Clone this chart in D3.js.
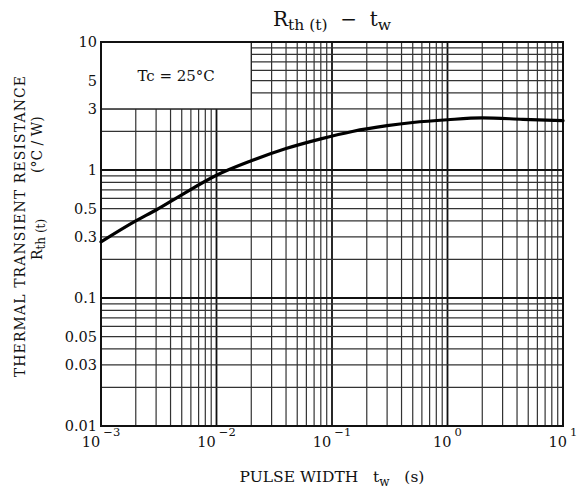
<!DOCTYPE html>
<html>
<head>
<meta charset="utf-8">
<script src="https://cdn.jsdelivr.net/npm/d3@7"></script>
<style>
  html, body { margin: 0; padding: 0; background: #fff; }
  svg { display: block; }
  text { font-family: "DejaVu Serif", serif; fill: #111; white-space: pre; }
</style>
</head>
<body>
<svg id="chart"></svg>
<script>
// ── DATA ──────────────────────────────────────────────────────────────────
const pulseWidth = [0.001, 0.002, 0.003, 0.005, 0.01, 0.02, 0.04, 0.08, 0.15, 0.3, 0.5, 1, 2, 4.5, 10];
const rth        = [0.274, 0.40, 0.487, 0.64, 0.91, 1.18, 1.47, 1.75, 2.00, 2.22, 2.35, 2.47, 2.55, 2.49, 2.43];

const xTickVals = [1e-3, 1e-2, 1e-1, 1, 10];
const xTickExp  = ["−3", "−2", "−1", "0", "1"];
const yTickVals = [10, 5, 3, 1, 0.5, 0.3, 0.1, 0.05, 0.03, 0.01];
const yTickText = ["10", "5", "3", "1", "0.5", "0.3", "0.1", "0.05", "0.03", "0.01"];

const pts = pulseWidth.map((t, i) => ({ t, r: rth[i] }));

// ── DIMENSI ──────────────────────────────────────────────────────────────
const W = 584, H = 490;
const pL = 101, pR = 563, pT = 42, pB = 426;

const svg = d3.select("#chart").attr("width", W).attr("height", H);

// ── SKALA ─────────────────────────────────────────────────────────────────
const x = d3.scaleLog().domain([1e-3, 10]).range([pL, pR]);
const y = d3.scaleLog().domain([0.01, 10]).range([pB, pT]);

const isDecade = v => Math.abs(Math.log10(v) - Math.round(Math.log10(v))) < 1e-9;

// ── GRID ──────────────────────────────────────────────────────────────────
const grid = svg.append("g");
grid.selectAll(".vx")
  .data(x.ticks())
  .join("line")
    .attr("x1", d => x(d)).attr("x2", d => x(d))
    .attr("y1", pT).attr("y2", pB)
    .attr("stroke", d => isDecade(d) ? "#111" : "#333")
    .attr("stroke-width", d => isDecade(d) ? 1.8 : 1.2);

grid.selectAll(".hy")
  .data(y.ticks())
  .join("line")
    .attr("y1", d => y(d)).attr("y2", d => y(d))
    .attr("x1", pL).attr("x2", pR)
    .attr("stroke", d => isDecade(d) ? "#111" : "#333")
    .attr("stroke-width", d => isDecade(d) ? 1.8 : 1.2);

// kotak keterangan (menutup grid)
svg.append("rect")
  .attr("x", x(1e-3)).attr("y", y(10))
  .attr("width", x(2e-2) - x(1e-3))
  .attr("height", y(3) - y(10))
  .attr("fill", "#fff")
  .attr("stroke", "#222")
  .attr("stroke-width", 1.3);

svg.append("text")
  .attr("x", (x(1e-3) + x(2e-2)) / 2)
  .attr("y", (y(10) + y(3)) / 2 + 6)
  .attr("text-anchor", "middle")
  .style("font-size", "15px")
  .text("Tc = 25°C");

// bingkai
svg.append("rect")
  .attr("x", pL).attr("y", pT)
  .attr("width", pR - pL).attr("height", pB - pT)
  .attr("fill", "none")
  .attr("stroke", "#111")
  .attr("stroke-width", 2);

// ── KURVA ─────────────────────────────────────────────────────────────────
const line = d3.line()
  .x(d => x(d.t))
  .y(d => y(d.r))
  .curve(d3.curveMonotoneX);

svg.append("path")
  .datum(pts)
  .attr("d", line)
  .attr("fill", "none")
  .attr("stroke", "#000")
  .attr("stroke-width", 3.2)
  .attr("stroke-linecap", "round");

// ── AXIS LABELS ───────────────────────────────────────────────────────────
svg.append("g")
  .selectAll("text")
  .data(yTickVals)
  .join("text")
    .attr("x", pL - 4)
    .attr("y", d => y(d))
    .attr("dy", "0.36em")
    .attr("text-anchor", "end")
    .style("font-size", "14.5px")
    .text((d, i) => yTickText[i]);

const xt = svg.append("g")
  .selectAll("text")
  .data(xTickVals)
  .join("text")
    .attr("x", d => x(d))
    .attr("y", 447)
    .attr("text-anchor", "middle")
    .style("font-size", "14.5px");
xt.append("tspan").text("10");
xt.append("tspan")
  .attr("dx", 3)
  .attr("dy", -11)
  .style("font-size", "11.5px")
  .text((d, i) => xTickExp[i]);

// judul sumbu x
const xTitle = svg.append("text")
  .attr("x", 332).attr("y", 482)
  .attr("text-anchor", "middle")
  .style("font-size", "15.5px");
xTitle.append("tspan").text("PULSE WIDTH   t");
xTitle.append("tspan").attr("dy", 4).style("font-size", "12px").text("w");
xTitle.append("tspan").attr("dy", -4).text("   (s)");

// judul sumbu y
svg.append("text")
  .attr("transform", "translate(25,226) rotate(-90)")
  .attr("text-anchor", "middle")
  .style("font-size", "14px")
  .style("letter-spacing", "1.1px")
  .text("THERMAL TRANSIENT RESISTANCE");

const yl2 = svg.append("text")
  .attr("transform", "translate(42,260) rotate(-90)")
  .attr("text-anchor", "start")
  .style("font-size", "14px");
yl2.append("tspan").text("R");
yl2.append("tspan").attr("dy", 3).style("font-size", "12px").text("th (t)");

svg.append("text")
  .attr("transform", "translate(42,173) rotate(-90)")
  .attr("text-anchor", "start")
  .style("font-size", "14px")
  .text("(°C / W)");

// ── JUDUL ─────────────────────────────────────────────────────────────────
const title = svg.append("text")
  .attr("x", 332).attr("y", 26)
  .attr("text-anchor", "middle")
  .style("font-size", "20px");
title.append("tspan").text("R");
title.append("tspan").attr("dy", 4).style("font-size", "15.5px").text("th (t)");
title.append("tspan").attr("dy", -4).text("  −  t");
title.append("tspan").attr("dy", 4).style("font-size", "15.5px").text("w");
</script>
</body>
</html>
